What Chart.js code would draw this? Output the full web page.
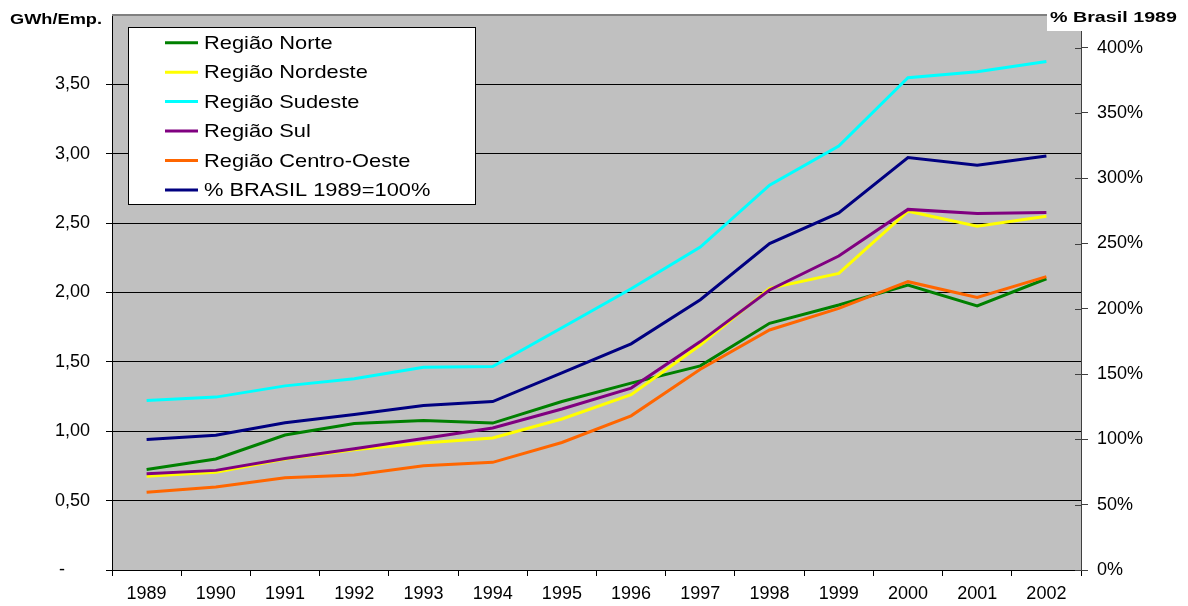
<!DOCTYPE html>
<html>
<head>
<meta charset="utf-8">
<script src="https://cdn.jsdelivr.net/npm/chart.js@4.4.0/dist/chart.umd.min.js"></script>
<style>
  html, body { margin: 0; padding: 0; background: #fff; }
  #wrap { width: 1188px; height: 606px; }
</style>
</head>
<body>
<div id="wrap"><canvas id="chart" width="1188" height="606"></canvas></div>
<script>
const years = ['1989', '1990', '1991', '1992', '1993', '1994', '1995', '1996', '1997', '1998', '1999', '2000', '2001', '2002'];

// GWh/Emp. (left axis)
const norte       = [0.725, 0.800, 0.973, 1.056, 1.078, 1.059, 1.214, 1.347, 1.471, 1.778, 1.910, 2.054, 1.903, 2.099];
const nordeste    = [0.675, 0.704, 0.800, 0.867, 0.915, 0.951, 1.088, 1.263, 1.622, 2.030, 2.138, 2.586, 2.478, 2.550];
const sudeste     = [1.222, 1.246, 1.327, 1.378, 1.462, 1.466, 1.746, 2.027, 2.327, 2.773, 3.056, 3.548, 3.591, 3.665];
const sul         = [0.694, 0.718, 0.804, 0.874, 0.948, 1.023, 1.160, 1.311, 1.646, 2.018, 2.263, 2.599, 2.570, 2.577];
const centroOeste = [0.560, 0.599, 0.665, 0.685, 0.752, 0.776, 0.919, 1.111, 1.447, 1.730, 1.886, 2.078, 1.965, 2.114];

// % Brasil 1989 = 100% (right axis)
const brasil = [100, 103.2, 112.7, 119, 126, 129, 151, 173.2, 207, 250, 273.5, 315.9, 310, 317];

const seriesNames = ['Região Norte', 'Região Nordeste', 'Região Sudeste', 'Região Sul', 'Região Centro-Oeste', '% BRASIL 1989=100%'];
const seriesColors = ['#008000', '#FFFF00', '#00FFFF', '#800080', '#FF6600', '#000080'];

const FONT = "'Liberation Sans', Arial, sans-serif";

function stretchText(ctx, text, x, y, sx) {
  ctx.save();
  ctx.translate(x, y);
  ctx.scale(sx, 1);
  ctx.fillText(text, 0, 0);
  ctx.restore();
}

const decorations = {
  id: 'decorations',
  beforeDraw(chart) {
    const { ctx, chartArea: a } = chart;
    ctx.save();
    ctx.fillStyle = '#C0C0C0';
    ctx.fillRect(a.left, a.top, a.right - a.left, a.bottom - a.top);
    ctx.restore();
  },
  afterDraw(chart) {
    const { ctx, chartArea: a } = chart;
    ctx.save();

    // top border of plot area
    ctx.strokeStyle = '#808080';
    ctx.lineWidth = 2;
    ctx.beginPath();
    ctx.moveTo(a.left, a.top);
    ctx.lineTo(a.right, a.top);
    ctx.stroke();

    // right axis ticks cross the axis line
    const y1 = chart.scales.y1;
    ctx.strokeStyle = '#404040';
    ctx.lineWidth = 1;
    y1.ticks.forEach(t => {
      const py = Math.round(y1.getPixelForValue(t.value)) + 0.5;
      ctx.beginPath();
      ctx.moveTo(a.right - 6, py);
      ctx.lineTo(a.right, py);
      ctx.stroke();
    });

    // axis titles
    ctx.fillStyle = '#000';
    ctx.font = 'bold 15.5px ' + FONT;
    ctx.textBaseline = 'alphabetic';
    ctx.textAlign = 'left';
    let w = ctx.measureText('GWh/Emp.').width;
    stretchText(ctx, 'GWh/Emp.', 10, 24, 92 / w);

    ctx.fillStyle = '#fff';
    ctx.fillRect(1047, 0, 141, 31);
    ctx.fillStyle = '#000';
    w = ctx.measureText('% Brasil 1989').width;
    stretchText(ctx, '% Brasil 1989', 1050, 22, 127 / w);

    // legend box
    ctx.fillStyle = '#fff';
    ctx.fillRect(128.5, 27.5, 347, 177);
    ctx.strokeStyle = '#000';
    ctx.lineWidth = 1;
    ctx.strokeRect(128.5, 27.5, 347, 177);
    ctx.font = '18.5px ' + FONT;
    seriesNames.forEach((name, i) => {
      const ly = 42.7 + i * 29.45;
      ctx.strokeStyle = seriesColors[i];
      ctx.lineWidth = 3;
      ctx.beginPath();
      ctx.moveTo(165, ly);
      ctx.lineTo(198, ly);
      ctx.stroke();
      ctx.fillStyle = '#000';
      stretchText(ctx, name, 204, ly + 6, 1.18);
    });

    ctx.restore();
  }
};

const leftSeries = [norte, nordeste, sudeste, sul, centroOeste];
const datasets = leftSeries.map((d, i) => ({
  label: seriesNames[i],
  data: d,
  yAxisID: 'y',
  borderColor: seriesColors[i],
  backgroundColor: seriesColors[i],
  borderWidth: 3,
  pointRadius: 0,
  tension: 0,
  fill: false,
  order: 6 - i
}));
datasets.push({
  label: seriesNames[5],
  data: brasil,
  yAxisID: 'y1',
  borderColor: seriesColors[5],
  backgroundColor: seriesColors[5],
  borderWidth: 3,
  pointRadius: 0,
  tension: 0,
  fill: false,
  order: 0
});

new Chart(document.getElementById('chart'), {
  type: 'line',
  data: { labels: years, datasets: datasets },
  plugins: [decorations],
  options: {
    responsive: false,
    animation: false,
    layout: { padding: { top: 15, left: 0, right: 0, bottom: 0 } },
    plugins: {
      legend: { display: false },
      tooltip: { enabled: false }
    },
    scales: {
      x: {
        offset: true,
        afterFit: s => { s.height = 36; },
        grid: {
          offset: true,
          drawOnChartArea: false,
          drawTicks: true,
          tickLength: 6,
          color: '#000'
        },
        border: { color: '#000', width: 1 },
        ticks: {
          color: '#000',
          padding: 7,
          maxRotation: 0,
          autoSkip: false,
          font: { family: FONT, size: 18 }
        }
      },
      y: {
        position: 'left',
        min: 0,
        max: 4,
        afterFit: s => { s.width = 112; s.paddingTop = 0; s.paddingBottom = 0; },
        grid: {
          color: '#000',
          tickColor: '#000',
          tickLength: 6,
          lineWidth: 1
        },
        border: { color: '#000', width: 1 },
        ticks: {
          stepSize: 0.5,
          color: '#000',
          padding: 16,
          font: { family: FONT, size: 18 },
          callback: v => {
            if (v >= 4) return null;
            if (v === 0) return '-     ';
            return v.toFixed(2).replace('.', ',');
          }
        }
      },
      y1: {
        position: 'right',
        min: 0,
        max: 425,
        afterFit: s => { s.width = 107; s.paddingTop = 0; s.paddingBottom = 0; },
        grid: {
          drawOnChartArea: false,
          tickColor: '#404040',
          tickLength: 7
        },
        border: { color: '#404040', width: 1 },
        ticks: {
          stepSize: 50,
          includeBounds: false,
          color: '#000',
          padding: 9,
          font: { family: FONT, size: 18 },
          callback: v => v + '%'
        }
      }
    }
  }
});
</script>
</body>
</html>
